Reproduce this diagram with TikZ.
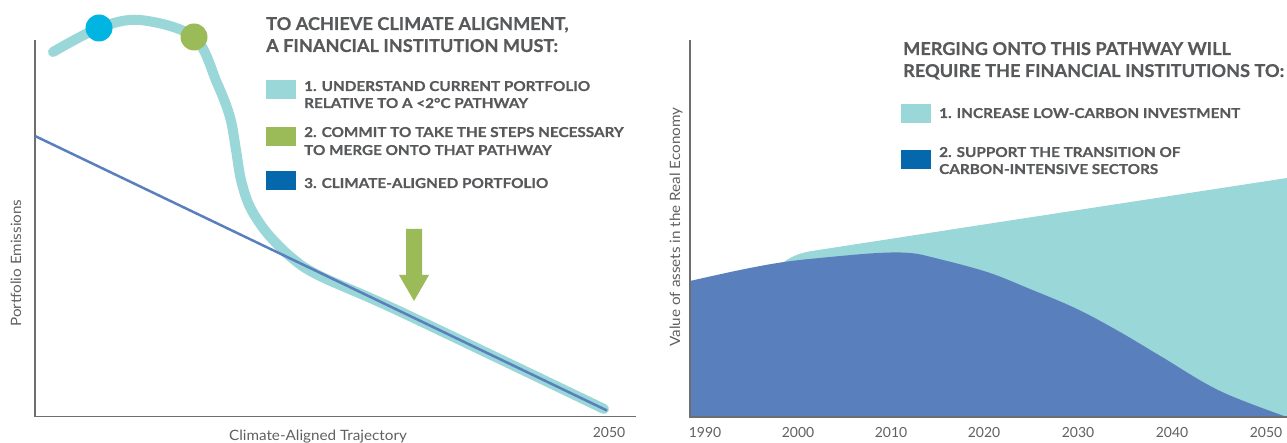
\documentclass[tikz,border=0pt]{standalone}
\usepackage{fontspec}
\setmainfont{Lato}
\newfontfamily\headfont[FakeStretch=1.03,FakeBold=0.6]{Lato}
\newfontfamily\itemfont[FakeStretch=1.12,FakeBold=0.6]{Lato}
\newfontfamily\lblfont[FakeStretch=1.07]{Lato}
\definecolor{teal1}{RGB}{154,215,216}
\definecolor{cyandot}{RGB}{0,181,226}
\definecolor{greenc}{RGB}{155,187,89}
\definecolor{darkblue}{RGB}{6,104,172}
\definecolor{areablue}{RGB}{90,127,189}
\definecolor{txtgray}{RGB}{88,89,91}
\definecolor{axisgray}{RGB}{110,110,112}
\definecolor{lblgray}{RGB}{95,96,98}
\tikzset{
  head/.style={anchor=base west, inner sep=0pt, text=txtgray, font=\headfont\fontsize{17.7}{20}\selectfont\bfseries},
  item/.style={anchor=base west, inner sep=0pt, text=txtgray, font=\itemfont\fontsize{13.7}{16}\selectfont\bfseries},
  axlbl/.style={inner sep=0pt, text=lblgray, font=\lblfont\fontsize{14.3}{16}\selectfont},
  yearlbl/.style={anchor=base, inner sep=0pt, text=lblgray, font=\fontsize{14}{16}\selectfont},
  axis/.style={draw=axisgray, line width=1.5bp},
}
\begin{document}
\begin{tikzpicture}[x=1bp,y=-1bp]
\useasboundingbox (0,0) rectangle (1287,443);
% ---------- left chart ----------
\draw[axis] (35,40) -- (35,416.5) -- (636,416.5);
\draw[teal1, line width=10bp, line cap=round]
  plot[smooth, tension=0.55] coordinates {(53,52) (99,28) (140,20) (194,37) (217,83) (230,117) (236,150) (241,180) (250,207) (267,233) (292,258) (320,276) (400,311.5) (604,409)};
\draw[areablue, line width=2.5bp] (35,136) -- (607,410.5);
\fill[cyandot] (99,28) circle (13.5);
\fill[greenc] (194,37) circle (13.5);
\fill[greenc] (406,229) -- (422,229) -- (422,275) -- (429,275) -- (414,301) -- (399,275) -- (406,275) -- cycle;
\node[axlbl, rotate=90] (ylblL) at (16,263) {Portfolio Emissions};
\node[axlbl, anchor=base] (xlblL) at (318,441) {Climate-Aligned Trajectory};
\node[yearlbl] (y2050L) at (609,438) {2050};
% left legend
\node[head] (hL1) at (266,30) {TO ACHIEVE CLIMATE ALIGNMENT,};
\node[head] (hL2) at (266,52) {A FINANCIAL INSTITUTION MUST:};
\fill[teal1] (266,80) rectangle (296,99);
\node[item] (iL1a) at (304,91) {1. UNDERSTAND CURRENT PORTFOLIO};
\node[item] (iL1b) at (304,108) {RELATIVE TO A <2°C PATHWAY};
\fill[greenc] (266,127) rectangle (296,146);
\node[item] (iL2a) at (304,137) {2. COMMIT TO TAKE THE STEPS NECESSARY};
\node[item] (iL2b) at (304,155) {TO MERGE ONTO THAT PATHWAY};
\fill[darkblue] (266,171) rectangle (296,190);
\node[item] (iL3) at (304,188) {3. CLIMATE-ALIGNED PORTFOLIO};
% ---------- right chart ----------
\fill[teal1] (784,262) .. controls (792,256) and (800,253) .. (812,251)
  -- (1000,222) -- (1287,178) -- (1287,417) -- (784,417) -- cycle;
\fill[areablue] plot[smooth, tension=0.6] coordinates {(690,281) (740,270) (784,262) (830,257) (878,253) (910,253) (935,258) (987,272) (1030,289) (1077,309) (1120,332) (1162,357) (1220,391) (1287,417)}
  -- (690,417) -- cycle;
\draw[axis] (690,40) -- (690,417) -- (1287,417);
\node[axlbl, rotate=90] (ylblR) at (676,227) {Value of assets in the Real Economy};
\foreach \yr/\xx in {1990/705,2000/798,2010/891,2020/984,2030/1078,2040/1172,2050/1266}
  \node[yearlbl] (yr\yr) at (\xx,438) {\yr};
% right legend
\node[head] (hR1) at (903,55) {MERGING ONTO THIS PATHWAY WILL};
\node[head] (hR2) at (903,77) {REQUIRE THE FINANCIAL INSTITUTIONS TO:};
\fill[teal1] (901,104) rectangle (931,123);
\node[item] (iR1) at (939,118) {1. INCREASE LOW-CARBON INVESTMENT};
\fill[darkblue] (901,150) rectangle (931,169);
\node[item] (iR2a) at (939,157) {2. SUPPORT THE TRANSITION OF};
\node[item] (iR2b) at (939,174) {CARBON-INTENSIVE SECTORS};
\end{tikzpicture}
\end{document}
